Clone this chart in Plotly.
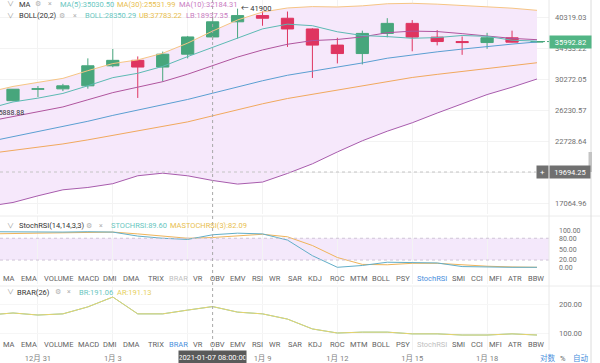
import math
import plotly.graph_objects as go

# ---------------- data ----------------
dates = ["2020-12-29", "2020-12-30", "2020-12-31", "2021-01-01", "2021-01-02",
         "2021-01-03", "2021-01-04", "2021-01-05", "2021-01-06", "2021-01-07",
         "2021-01-08", "2021-01-09", "2021-01-10", "2021-01-11", "2021-01-12",
         "2021-01-13", "2021-01-14", "2021-01-15", "2021-01-16", "2021-01-17",
         "2021-01-18", "2021-01-19", "2021-01-20"]
opens = [27079, 27385, 28876, 28924, 29332, 32176, 33000, 31990, 33950, 36769,
         39432, 40587, 40088, 38150, 35410, 34049, 37371, 39145, 36737, 35995,
         35825, 36622, 35902]
highs = [27410, 28900, 29300, 29600, 33300, 34778, 33600, 34360, 36939, 40365,
         41900, 41380, 41350, 38265, 36628, 37850, 40100, 39748, 37950, 36852,
         37470, 37850, 36050]
lows = [25888.88, 27320, 27850, 28625, 28947, 31963, 27734, 29900, 33288, 36300,
        36500, 38720, 35111, 30420, 32531, 32380, 36701, 34408, 35358, 33850,
        34800, 35844, 35880]
closes = [27385, 28876, 28924, 29332, 32178, 33000, 31989, 33950, 36769, 39432,
          40583, 40088, 38150, 35404, 34051, 37371, 39145, 36742, 35995, 35829,
          36631, 35891, 35992.82]

ma5 = [26390, 27223, 27709, 28319, 29338, 30461, 31084, 32089, 33577, 35030.50,
       36544, 38164, 39004, 38731, 37655, 37013, 36824, 36542, 36660, 37016,
       36868, 36217, 36067]
ma10 = [24890, 25432, 26052, 26604, 27499, 28426, 29153, 29899, 30948, 32184.31,
        33503, 34624, 35547, 36154, 36341, 36778, 37494, 37773, 37696, 37335,
        36940, 36521, 36305]
ma30 = [21440, 21746, 22085, 22422, 22847, 23326, 23754, 24240, 24827, 25531.99,
        26265, 26993, 27663, 28217, 28712, 29316, 29973, 30487, 30926, 31351,
        31778, 32192, 32635]
boll_mid = [22646, 23177, 23722, 24248, 24898, 25584, 26213, 26843, 27542, 28350.29,
            29196, 30028, 30799, 31379, 31920, 32602, 33324, 33836, 34322, 34759,
            35222, 35572, 35926]
boll_ub = [28482, 29247, 29802, 30358, 31462, 32511, 33069, 34099, 35734, 37783.22,
           39768, 41258, 42035, 42305, 42232, 42452, 42865, 42946, 42782, 42555,
           42274, 41997, 41580]
boll_lb = [16810, 17107, 17642, 18138, 18334, 18658, 19356, 19587, 19350, 18937.35,
           18624, 18798, 19563, 20453, 21608, 22752, 23782, 24726, 25862, 26963,
           28169, 29148, 30272]

stoch_k = [98, 97, 97, 97, 98, 97, 86, 80, 76.7, 89.60, 94, 92, 75, 32, 0, 5,
           14, 14, 12, 2, 0, 0, 0]
stoch_d = [92, 93, 95, 96, 97, 97, 92, 86, 80, 82.09, 87, 91, 84, 60, 27, 8,
           7, 11, 11, 6, 3, 1, 0]

brar_br = [162, 169, 162, 166, 190, 224, 166, 166, 179, 191.06, 172, 166, 148,
           114, 100, 103, 103, 97, 97, 93, 93, 97, 93]
brar_ar = [162, 169, 162, 166, 190, 224, 166, 166, 179, 191.13, 172, 166, 148,
           114, 100, 103, 103, 97, 97, 93, 93, 97, 93]

price_ticks = [17064.96, 19694.25, 22728.64, 26230.57, 30272.05, 34933.22, 40319.03]
stoch_ticks = [0, 20, 50, 80, 100]
brar_ticks = [100, 200]
date_tick_vals = ["2020-12-31", "2021-01-03", "2021-01-06", "2021-01-09",
                  "2021-01-12", "2021-01-15", "2021-01-18"]
date_tick_text = ["12月 31", "1月 3", "1月 6", "1月 9", "1月 12", "1月 15", "1月 18"]

tabs = ["MA", "EMA", "VOLUME", "MACD", "DMI", "DMA", "TRIX", "BRAR", "VR", "OBV",
        "EMV", "RSI", "WR", "SAR", "KDJ", "ROC", "MTM", "BOLL", "PSY", "StochRSI",
        "SMI", "CCI", "MFI", "ATR", "BBW"]

crosshair_date = "2021-01-07"
crosshair_price = 19694.25
last_price = 35992.82
high_mark = 41900
low_mark = 25888.88

# ---------------- layout helpers ----------------
W, H = 600, 363
PW = 549  # plot area width in px


def px(x):
    return x / PW


def py(y):
    return 1 - y / H


GREEN = "#47a67c"
RED = "#df3560"
C_MA5 = "#5cbab3"
C_MA10 = "#b0559e"
C_MA30 = "#f1a95e"
C_BOLL = "#5b9fd2"
C_UB = "#f6c584"
C_LB = "#a85cad"
T_TEAL = "#68c6c0"
T_YEL = "#e8be4e"
T_PUR = "#c97cbf"
FILL = "#f6e8fb"
FONT = "Roboto, Noto Sans CJK SC, sans-serif"

fig = go.Figure()

# Bollinger band fill (base subplot, drawn below the candles)
fig.add_trace(go.Scatter(x=dates, y=boll_lb, mode="lines", line=dict(width=0, color=C_LB),
                         xaxis="x", yaxis="y", showlegend=False, hoverinfo="skip"))
fig.add_trace(go.Scatter(x=dates, y=boll_ub, mode="lines", line=dict(width=0, color=C_UB),
                         fill="tonexty", fillcolor=FILL,
                         xaxis="x", yaxis="y", showlegend=False, hoverinfo="skip"))

# candles and lines on an overlaying axis so they sit above the fill
fig.add_trace(go.Candlestick(
    x=dates, open=opens, high=highs, low=lows, close=closes,
    increasing=dict(line=dict(color=GREEN, width=1), fillcolor=GREEN),
    decreasing=dict(line=dict(color=RED, width=1), fillcolor=RED),
    whiskerwidth=0, xaxis="x", yaxis="y4", showlegend=False))

for vals, col in [(ma30, C_MA30), (boll_mid, C_BOLL), (boll_lb, C_LB), (boll_ub, C_UB),
                  (ma10, C_MA10), (ma5, C_MA5)]:
    fig.add_trace(go.Scatter(x=dates, y=vals, mode="lines", line=dict(width=1, color=col),
                             xaxis="x", yaxis="y4", showlegend=False))

# StochRSI
fig.add_trace(go.Scatter(x=dates, y=stoch_d, mode="lines", line=dict(width=1, color="#efb45a"),
                         xaxis="x", yaxis="y2", showlegend=False))
fig.add_trace(go.Scatter(x=dates, y=stoch_k, mode="lines", line=dict(width=1, color="#62aec8"),
                         xaxis="x", yaxis="y2", showlegend=False))
# BRAR
fig.add_trace(go.Scatter(x=dates, y=brar_br, mode="lines", line=dict(width=1, color="#6cc6c0"),
                         xaxis="x", yaxis="y3", showlegend=False))
fig.add_trace(go.Scatter(x=dates, y=brar_ar, mode="lines", line=dict(width=1, color="#e9d46c"),
                         xaxis="x", yaxis="y3", showlegend=False))

shapes = []
# stoch band
shapes.append(dict(type="rect", xref="paper", yref="y2", x0=0, x1=1, y0=20, y1=80,
                   fillcolor="#f4e8fb", line=dict(width=0), layer="below"))
for lv in (20, 80):
    shapes.append(dict(type="line", xref="paper", yref="y2", x0=0, x1=1, y0=lv, y1=lv,
                       line=dict(color="#cfc4d6", width=1, dash="3px,3px")))
# separators
for yy in (216, 286):
    shapes.append(dict(type="line", xref="paper", yref="paper", x0=0, x1=W / PW,
                       y0=py(yy), y1=py(yy), line=dict(color="#ececec", width=1)))
shapes.append(dict(type="line", xref="paper", yref="paper", x0=1, x1=1, y0=py(350), y1=1,
                   line=dict(color="#e8e8e8", width=1)))
shapes.append(dict(type="line", xref="paper", yref="paper", x0=px(591), x1=px(591), y0=0, y1=1,
                   line=dict(color="#dcdcdc", width=1)))
shapes.append(dict(type="rect", xref="paper", yref="paper", x0=px(588.5), x1=px(592),
                   y0=py(172), y1=py(152), fillcolor="#c4c4c4", line=dict(width=0)))
# crosshair
shapes.append(dict(type="line", xref="x", yref="paper", x0=crosshair_date, x1=crosshair_date,
                   y0=py(351), y1=1, line=dict(color="#a8a8a8", width=1, dash="3px,3px")))
shapes.append(dict(type="line", xref="paper", yref="y", x0=0, x1=px(536),
                   y0=crosshair_price, y1=crosshair_price,
                   line=dict(color="#c4c4c4", width=1, dash="3px,3px")))
# last price dashed line
shapes.append(dict(type="line", xref="x", yref="y", x0=dates[-1], x1="2021-01-20 11:33",
                   y0=last_price, y1=last_price,
                   line=dict(color=GREEN, width=1, dash="3px,2px")))

ann = []


def text(x, y, s, color, size=7.5, anchor="left", **kw):
    ann.append(dict(xref="paper", yref="paper", x=px(x), y=py(y), text=s, showarrow=False,
                    xanchor=anchor, yanchor="middle",
                    font=dict(family=FONT, size=size, color=color), **kw))


def header(y, items):
    text(4.5, y, "∨", "#9a9a9a", size=7)
    for (x, s, col, anc) in items:
        text(x, y, s, col, anchor=anc, size=(7 if s in ("⚙", "×") else 7.5))


header(4.5, [(17, "MA", "#333333", "left"), (38, "⚙", "#b0b0b0", "center"),
             (49.5, "×", "#b0b0b0", "center"),
             (58, "MA(5):35030.50", T_TEAL, "left"), (115, "MA(30):25531.99", T_YEL, "left"),
             (177, "MA(10):32184.31", T_PUR, "left")])
header(15.5, [(17, "BOLL(20,2)", "#333333", "left"), (61.5, "⚙", "#b0b0b0", "center"),
              (74.5, "×", "#b0b0b0", "center"),
              (83, "BOLL:28350.29", T_TEAL, "left"), (137, "UB:37783.22", T_YEL, "left"),
              (184, "LB:18937.35", T_PUR, "left")])
header(225.5, [(17, "StochRSI(14,14,3,3)", "#333333", "left"), (89, "⚙", "#b0b0b0", "center"),
               (100.5, "×", "#b0b0b0", "center"),
               (109, "STOCHRSI:89.60", T_TEAL, "left"),
               (168, "MASTOCHRSI(3):82.09", T_YEL, "left")])
header(292, [(15, "BRAR(26)", "#333333", "left"), (57.5, "⚙", "#b0b0b0", "center"),
             (69, "×", "#b0b0b0", "center"),
             (77, "BR:191.06", T_TEAL, "left"), (115, "AR:191.13", "#e6cf5c", "left")])

tab_x = [9, 29, 58, 88, 110, 131, 156, 178, 198, 217, 238, 257, 275, 295, 315, 337, 358,
         381, 403, 432, 458, 477, 495, 515, 536]
for row_y, active, muted in ((278.5, "StochRSI", "BRAR"), (344.5, "BRAR", "StochRSI")):
    for name, cx in zip(tabs, tab_x):
        col = "#5f5f5f"
        if name == active:
            col = "#4a8fdc"
        elif name == muted:
            col = "#c0c0c0"
        text(cx, row_y, name, col, size=7.5, anchor="center")

# markers
ann.append(dict(xref="x", yref="y", x=dates[10], y=math.log10(high_mark), text="← 41900",
                showarrow=False, xanchor="left", yanchor="middle", xshift=1,
                font=dict(family=FONT, size=7.5, color="#333333")))
ann.append(dict(xref="paper", yref="y", x=px(25.5), y=math.log10(low_mark), text="← 25888.88",
                showarrow=False, xanchor="right", yanchor="middle",
                font=dict(family=FONT, size=7, color="#333333")))

# price boxes
ann.append(dict(xref="paper", yref="y", x=1, y=math.log10(last_price), text="35992.82",
                showarrow=False, xanchor="left", yanchor="middle", bgcolor="#52b585",
                width=40, height=11, borderpad=0.5,
                font=dict(family=FONT, size=7.5, color="white")))
ann.append(dict(xref="paper", yref="y", x=1, y=math.log10(crosshair_price), text="19694.25",
                showarrow=False, xanchor="left", yanchor="middle", bgcolor="#707070",
                width=39, height=11, borderpad=0.5,
                font=dict(family=FONT, size=7.5, color="white")))
ann.append(dict(xref="paper", yref="y", x=px(536), y=math.log10(crosshair_price), text="+",
                showarrow=False, xanchor="left", yanchor="middle", bgcolor="#707070",
                width=10, height=11, borderpad=0.5,
                font=dict(family=FONT, size=8, color="white")))
# crosshair date box
ann.append(dict(xref="x", yref="paper", x=crosshair_date, y=py(357), text="2021-01-07 08:00:00",
                showarrow=False, xanchor="center", yanchor="middle", bgcolor="#5a5a5a",
                width=66, height=11, borderpad=0.5,
                font=dict(family=FONT, size=7.5, color="white")))
# bottom right controls
text(547.5, 358, "对数", "#4a8fdc", size=7.5, anchor="center")
text(563, 358, "%", "#666666", size=7.5, anchor="center")
text(580.5, 358, "自动", "#4a8fdc", size=7.5, anchor="center")

ln_top = 10.60457 + 17 / 216.33
ln_bot = 10.60457 - (214 - 17) / 216.33
main_range = [ln_bot / math.log(10), ln_top / math.log(10)]

fig.update_layout(
    width=W, height=H, margin=dict(l=0, r=W - PW, t=0, b=0),
    paper_bgcolor="white", plot_bgcolor="white",
    showlegend=False, shapes=shapes, annotations=ann,
    font=dict(family=FONT, size=7.5, color="#666666"),
    xaxis=dict(type="date", range=["2020-12-29 11:30", "2021-01-20 11:33"], anchor="y3",
               tickvals=date_tick_vals, ticktext=date_tick_text, ticks="",
               ticklabelstandoff=2,
               tickfont=dict(size=7.5, color="#808080"),
               showgrid=True, gridcolor="#f3f3f3", gridwidth=1, zeroline=False,
               showline=False, rangeslider=dict(visible=False), fixedrange=True),
    yaxis=dict(domain=[py(214), 1], type="log", range=main_range,
               side="right", anchor="x", tickvals=price_ticks,
               ticktext=[f"{v:.2f}" for v in price_ticks], ticks="",
               ticklabelstandoff=5,
               tickfont=dict(size=7.5, color="#707070"),
               showgrid=True, gridcolor="#f3f3f3", zeroline=False, showline=False),
    yaxis4=dict(type="log", range=main_range, overlaying="y", side="right", anchor="x",
                showticklabels=False, showgrid=False, zeroline=False, ticks=""),
    yaxis2=dict(domain=[py(284), py(216)], range=[-46, 141.3], side="right", anchor="x",
                tickvals=stoch_ticks, ticktext=[f"{v:.2f}" for v in stoch_ticks], ticks="",
                ticklabelstandoff=9,
                tickfont=dict(size=7, color="#707070"), showgrid=False, zeroline=False),
    yaxis3=dict(domain=[py(350), py(287)], range=[41.4, 258.6], side="right", anchor="x",
                tickvals=brar_ticks, ticktext=[f"{v:.2f}" for v in brar_ticks], ticks="",
                ticklabelstandoff=9,
                tickfont=dict(size=7.5, color="#707070"), showgrid=True, gridcolor="#f6f6f6",
                zeroline=False),
)

fig.write_html("out.html", config={"displayModeBar": False},
               post_script="document.body.style.margin='0px';document.body.style.overflow='hidden';")
